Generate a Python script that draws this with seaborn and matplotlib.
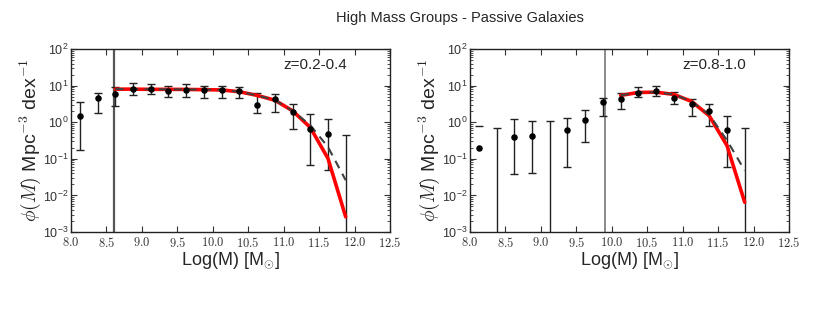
import numpy as np
import pandas as pd
import matplotlib
matplotlib.use("Agg")
import matplotlib.pyplot as plt
from matplotlib.ticker import LogLocator, FixedLocator, FuncFormatter, NullFormatter
import seaborn as sns

sns.set_style("ticks")
plt.rcParams['font.family'] = ['Liberation Sans', 'DejaVu Sans']
plt.rcParams['mathtext.fontset'] = 'cm'

# ---------------- data ----------------
mass = [8.125, 8.375, 8.625, 8.875, 9.125, 9.375, 9.625, 9.875,
        10.125, 10.375, 10.625, 10.875, 11.125, 11.375, 11.625, 11.875]

# left panel z=0.2-0.4 (nan = no point; lower 0 = bar reaches axis floor; lower<0 = bar line hidden)
phi_L = [1.5, 4.5, 5.9, 8.3, 8.3, 7.1, 7.4, 7.4, 7.7, 6.9, 2.9, 4.3, 1.85, 0.66, 0.48, np.nan]
upper_L = [3.5, 6.2, 8.9, 12.0, 11.0, 10.0, 11.0, 10.0, 10.0, 8.9, 6.2, 5.8, 3.2, 1.7, 1.26, 0.46]
lower_L = [0.17, 1.8, 2.75, 5.5, 5.9, 4.9, 4.9, 4.6, 4.5, 4.5, 1.8, 1.95, 0.65, 0.068, 0.049, 0.0]

# right panel z=0.8-1.0
phi_R = [0.2, np.nan, 0.39, 0.41, np.nan, 0.6, 1.17, 3.6, 4.4, 6.3, 6.9, 4.6, 3.2, 2.0, 0.6, np.nan]
upper_R = [0.81, 0.71, 1.2, 1.1, 1.05, 1.32, 2.2, 4.5, 6.3, 8.9, 9.5, 6.6, 4.4, 3.1, 1.48, 0.69]
lower_R = [-1.0, 0.0, 0.038, 0.040, 0.0, 0.059, 0.28, 1.48, 2.3, 4.9, 5.2, 3.2, 1.45, 0.81, 0.059, 0.0]

# model curves
fit_mass_L = mass[2:]
fit_red_L = [8.0, 8.0, 7.9, 7.9, 7.85, 7.75, 7.6, 6.8, 5.4, 4.0, 2.05, 0.72, 0.102, 0.0026]
fit_dash_L = [8.0, 8.0, 7.9, 7.9, 7.85, 7.75, 7.6, 6.8, 5.4, 4.0, 2.05, 0.83, 0.21, 0.026]
fit_mass_R = mass[8:]
fit_red_R = [5.4, 6.5, 6.6, 5.75, 3.7, 1.5, 0.23, 0.0065]
fit_dash_R = [5.4, 6.5, 6.6, 5.75, 3.7, 1.6, 0.32, 0.048]

limit_L = 8.6
limit_R = 9.9
labels = ["z=0.2-0.4", "z=0.8-1.0"]
title = "High Mass Groups - Passive Galaxies"
xticks = [8.0, 8.5, 9.0, 9.5, 10.0, 10.5, 11.0, 11.5, 12.0, 12.5]

# ---------------- figure ----------------
fig = plt.figure(figsize=(8.3, 3.14), dpi=100)
axL = fig.add_axes([71/830, 82/314, 319/830, 183/314])
axR = fig.add_axes([470/830, 82/314, 319/830, 183/314])

YMIN, YMAX = 1e-3, 1e2
panels = [
    (axL, phi_L, upper_L, lower_L, fit_mass_L, fit_red_L, fit_dash_L, limit_L, labels[0], '#555555', 1.6),
    (axR, phi_R, upper_R, lower_R, fit_mass_R, fit_red_R, fit_dash_R, limit_R, labels[1], '#777777', 1.2),
]

for ax, phi, up, lo, fm, fr, fd, lim, lab, lcol, llw in panels:
    ax.set_yscale('log')
    ax.set_xlim(8.0, 12.5)
    ax.set_ylim(YMIN, YMAX)
    ax.axvline(lim, color=lcol, lw=llw, zorder=1)

    # error bars
    for m, u, l in zip(mass, up, lo):
        if l < 0:
            ax.plot([m], [u], marker='_', ms=5.5, mew=1.0, color='#222222', ls='none', zorder=2)
            continue
        lb = l if l > 0 else YMIN * 0.01
        ax.vlines(m, lb, u, color='#222222', lw=1.0, zorder=2)
        ax.plot([m], [u], marker='_', ms=5.5, mew=1.0, color='#222222', ls='none', zorder=2)
        if l > 0:
            ax.plot([m], [l], marker='_', ms=5.5, mew=1.0, color='#222222', ls='none', zorder=2)

    df_pts = pd.DataFrame({'mass': mass, 'phi': phi}).dropna()
    sns.scatterplot(data=df_pts, x='mass', y='phi', ax=ax, color='black', s=22,
                    edgecolor='black', linewidth=0, zorder=5)

    df_fit = pd.DataFrame({'mass': fm, 'red': fr, 'dash': fd})
    sns.lineplot(data=df_fit, x='mass', y='red', ax=ax, color='red', lw=2.6, zorder=3)
    sns.lineplot(data=df_fit, x='mass', y='dash', ax=ax, color='#404040', lw=1.5,
                 dashes=(4, 3), zorder=4)

    ax.text(0.665, 0.915, lab, transform=ax.transAxes, fontsize=11, va='center', ha='left')

    ax.xaxis.set_major_locator(FixedLocator(xticks))
    ax.xaxis.set_major_formatter(FuncFormatter(lambda v, p: r'$%.1f$' % v))
    ax.yaxis.set_major_locator(LogLocator(base=10, numticks=10))
    ax.yaxis.set_minor_locator(LogLocator(base=10, subs=np.arange(2, 10), numticks=10))
    ax.yaxis.set_minor_formatter(NullFormatter())
    ax.tick_params(which='both', direction='in', top=True, right=True, colors='#333333',
                   labelcolor='#333333', labelsize=9)
    ax.tick_params(axis='x', pad=3)
    ax.tick_params(axis='y', pad=2)
    ax.tick_params(which='major', length=4, width=0.8)
    ax.tick_params(which='minor', length=2, width=0.6)
    for s in ax.spines.values():
        s.set_color('#222222')
        s.set_linewidth(1.0)
        s.set_visible(True)

    ax.set_xlabel(r'Log(M) [M$_{\odot}$]', fontsize=13, labelpad=0)
    ax.set_ylabel(r'$\phi(M)$ Mpc$^{-3}$ dex$^{-1}$', fontsize=14, labelpad=0)

fig.text(0.554, 0.943, title, ha='center', va='center', fontsize=10.5)

fig.savefig('out.png', dpi=100)
